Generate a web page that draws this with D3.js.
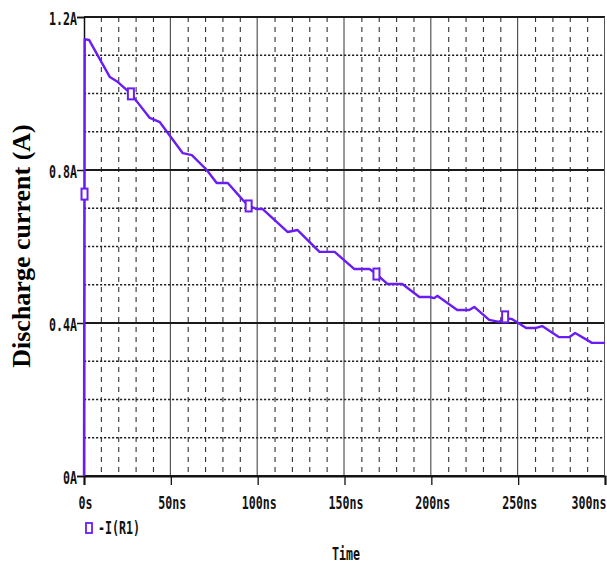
<!DOCTYPE html>
<html>
<head>
<meta charset="utf-8">
<script src="https://cdn.jsdelivr.net/npm/d3@7"></script>
<style>
  body { margin: 0; background: #fff; }
  .tick-lbl { font-family: "DejaVu Sans Mono", monospace; font-size: 18px; font-weight: bold; fill: #111; }
</style>
</head>
<body>
<div id="chart"></div>
<script>
// trace -I(R1), time in ns, current in A
const timeNs = [0, 0.4, 2.9, 14.9, 19.5, 24.7, 27.0, 37.9, 43.7, 56.9, 62.1, 70.7, 76.4, 82.8, 91.4, 94.8,
    99.4, 102.9, 117.2, 123.0, 135.6, 144.3, 155.7, 164.4, 168.4, 174.7, 183.3, 193.1, 198.9, 201.7, 203.4,
    214.9, 221.8, 224.7, 233.3, 239.1, 242.5, 246.6, 254.6, 260.3, 263.8, 273.6, 279.3, 282.8, 292.5, 300];
const currentA = [0, 1.142, 1.140, 1.043, 1.030, 1.009, 0.999, 0.936, 0.925, 0.844, 0.839, 0.800, 0.766, 0.766, 0.722, 0.706,
    0.698, 0.698, 0.638, 0.643, 0.586, 0.586, 0.541, 0.541, 0.528, 0.502, 0.502, 0.468, 0.468, 0.465, 0.471,
    0.434, 0.434, 0.442, 0.408, 0.403, 0.413, 0.410, 0.387, 0.387, 0.392, 0.363, 0.363, 0.374, 0.348, 0.348];

// probe markers on the trace
const markerT = [0.3, 27.0, 94.8, 168.4, 242.5];
const markerI = [0.737, 0.999, 0.706, 0.528, 0.416];

const xTicks = [0, 50, 100, 150, 200, 250, 300];
const xTickLabels = ["0s", "50ns", "100ns", "150ns", "200ns", "250ns", "300ns"];
const yTicks = [0, 0.4, 0.8, 1.2];
const yTickLabels = ["0A", "0.4A", "0.8A", "1.2A"];
const xMinor = [10, 20, 30, 40, 60, 70, 80, 90, 110, 120, 130, 140, 160, 170, 180, 190, 210, 220, 230, 240, 260, 270, 280, 290];
const yMinor = [0.1, 0.2, 0.3, 0.5, 0.6, 0.7, 0.9, 1.0, 1.1];

const traceName = "-I(R1)";
const xTitle = "Time";
const yTitle = "Discharge current (A)";
const traceColor = "#6a1cf5";

const width = 607, height = 564;
const margin = {top: 17, right: 2, bottom: 88, left: 84};
const sx = 0.646; // narrow the mono font to ~7px per glyph

const svg = d3.select("#chart").append("svg")
    .attr("width", width)
    .attr("height", height);

const x = d3.scaleLinear().domain([0, 300]).range([margin.left, width - margin.right]);
const y = d3.scaleLinear().domain([0, 1.2]).range([height - margin.bottom, margin.top]);

// squeeze a text horizontally, keeping its anchor at xPos
function squeeze(sel, xPos) {
    sel.attr("transform", "scale(" + sx + ",1)").attr("x", xPos / sx);
}

// minor grid
svg.append("g").selectAll("line")
    .data(xMinor)
    .enter().append("line")
    .attr("x1", d => x(d)).attr("x2", d => x(d))
    .attr("y1", y(1.2)).attr("y2", y(0))
    .attr("stroke", "#333").attr("stroke-width", 1.1)
    .attr("stroke-dasharray", "5,5");

svg.append("g").selectAll("line")
    .data(yMinor)
    .enter().append("line")
    .attr("x1", x(0)).attr("x2", x(300))
    .attr("y1", d => y(d)).attr("y2", d => y(d))
    .attr("stroke", "#222").attr("stroke-width", 1.6)
    .attr("stroke-dasharray", "2.2,1.8");

// major grid
svg.append("g").selectAll("line")
    .data(xTicks.slice(1))
    .enter().append("line")
    .attr("x1", d => x(d) - 0.5).attr("x2", d => x(d) - 0.5)
    .attr("y1", y(1.2)).attr("y2", y(0))
    .attr("stroke", "#333").attr("stroke-width", 1);

svg.append("g").selectAll("line")
    .data(yTicks)
    .enter().append("line")
    .attr("x1", x(0)).attr("x2", x(300))
    .attr("y1", d => y(d)).attr("y2", d => y(d))
    .attr("stroke", "#1a1a1a").attr("stroke-width", 2);

// y axis
const yAxis = svg.append("g")
    .attr("transform", "translate(" + x(0) + ",0)")
    .call(d3.axisLeft(y).tickValues(yTicks).tickSize(7).tickPadding(1)
        .tickFormat((d, i) => yTickLabels[i]));
yAxis.select(".domain").attr("stroke", "#111").attr("stroke-width", 1.5);
yAxis.selectAll(".tick line").attr("stroke", "#111").attr("stroke-width", 1.5);
yAxis.selectAll(".tick text")
    .attr("class", "tick-lbl")
    .attr("text-anchor", "end")
    .attr("dy", null).attr("y", 7)
    .call(squeeze, -7);

// x axis
const xAxis = svg.append("g")
    .attr("transform", "translate(0," + y(0) + ")")
    .call(d3.axisBottom(x).tickValues(xTicks).tickSize(9).tickPadding(1)
        .tickFormat((d, i) => xTickLabels[i]));
xAxis.select(".domain").attr("stroke", "#111").attr("stroke-width", 2);
xAxis.selectAll(".tick line").attr("stroke", "#111").attr("stroke-width", 1.3);
xAxis.selectAll(".tick text")
    .attr("class", "tick-lbl")
    .attr("dy", null).attr("y", 33)
    .attr("text-anchor", d => d === 300 ? "end" : "middle")
    .each(function(d) { d3.select(this).call(squeeze, d === 300 ? 1 : 1); });

// right border
svg.append("line")
    .attr("x1", x(300) - 0.5).attr("x2", x(300) - 0.5)
    .attr("y1", y(1.2)).attr("y2", y(0))
    .attr("stroke", "#555").attr("stroke-width", 1);

// trace
const line = d3.line()
    .x((d, i) => x(timeNs[i]))
    .y(d => y(d));

svg.append("path")
    .datum(currentA)
    .attr("d", line)
    .attr("fill", "none")
    .attr("stroke", traceColor)
    .attr("stroke-width", 2.4)
    .attr("stroke-linejoin", "round");

svg.append("g").selectAll("rect")
    .data(markerT)
    .enter().append("rect")
    .attr("x", d => x(d) - 3)
    .attr("y", (d, i) => y(markerI[i]) - 5.5)
    .attr("width", 6).attr("height", 11)
    .attr("fill", "#fff")
    .attr("stroke", traceColor)
    .attr("stroke-width", 2);

// legend
svg.append("rect")
    .attr("x", 86).attr("y", 523)
    .attr("width", 6).attr("height", 10)
    .attr("fill", "#fff").attr("stroke", traceColor).attr("stroke-width", 1.8);
svg.append("text")
    .attr("class", "tick-lbl")
    .attr("y", 534)
    .call(squeeze, 98)
    .text(traceName);

// axis titles
svg.append("text")
    .attr("class", "tick-lbl")
    .attr("y", 560)
    .call(squeeze, 332)
    .text(xTitle);

svg.append("text")
    .attr("transform", "translate(30,246) rotate(-90)")
    .attr("text-anchor", "middle")
    .style("font-family", "'Liberation Serif', 'Times New Roman', serif")
    .style("font-weight", "bold")
    .style("font-size", "26px")
    .attr("fill", "#000")
    .text(yTitle);
</script>
</body>
</html>
